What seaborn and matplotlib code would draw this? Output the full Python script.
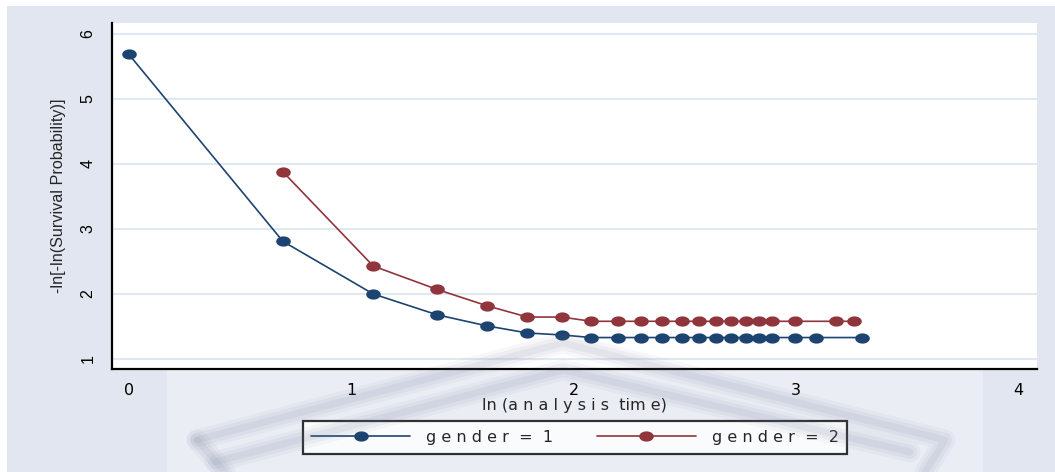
import numpy as np
import pandas as pd
import matplotlib
matplotlib.use("Agg")
import matplotlib.pyplot as plt
import matplotlib.transforms as mtransforms
from matplotlib.path import Path
from matplotlib.patches import Rectangle
from matplotlib.lines import Line2D
import seaborn as sns

# ln(analysis time) and -ln[-ln(S)] for each gender
x_g1 = [0.000, 0.693, 1.099, 1.386, 1.609, 1.792, 1.946, 2.079, 2.197, 2.303,
        2.398, 2.485, 2.565, 2.639, 2.708, 2.773, 2.833, 2.890, 2.996, 3.091, 3.296]
y_g1 = [5.69, 2.81, 2.00, 1.68, 1.51, 1.40, 1.37, 1.33, 1.33, 1.33,
        1.33, 1.33, 1.33, 1.33, 1.33, 1.33, 1.33, 1.33, 1.33, 1.33, 1.33]
x_g2 = [0.693, 1.099, 1.386, 1.609, 1.792, 1.946, 2.079, 2.197, 2.303, 2.398,
        2.485, 2.565, 2.639, 2.708, 2.773, 2.833, 2.890, 2.996, 3.178, 3.258]
y_g2 = [3.88, 2.43, 2.07, 1.82, 1.645, 1.645, 1.58, 1.58, 1.58, 1.58,
        1.58, 1.58, 1.58, 1.58, 1.58, 1.58, 1.58, 1.58, 1.58, 1.58]
labels = ["g e n d e r  =  1", "g e n d e r  =  2"]
x_ticks = [0, 1, 2, 3, 4]
y_ticks = [1, 2, 3, 4, 5, 6]

NAVY = "#1D4470"
MAROON = "#90353B"

sns.set_theme(style="white")
plt.rcParams["font.family"] = ["DejaVu Sans"]
ARIAL = ["Liberation Sans", "DejaVu Sans"]

df = pd.concat([
    pd.DataFrame({"x": x_g1, "y": y_g1, "grp": labels[0]}),
    pd.DataFrame({"x": x_g2, "y": y_g2, "grp": labels[1]}),
], ignore_index=True)

W, H = 1055, 472
fig = plt.figure(figsize=(W / 100, H / 100), dpi=100, facecolor="white")
px = mtransforms.Affine2D().scale(1 / W, -1 / H).translate(0, 1) + fig.transFigure

# graph region background
fig.add_artist(Rectangle((7, 6), W - 7, H - 6, transform=px,
                         facecolor="#E1E6F0", edgecolor="none", zorder=-20))
fig.add_artist(Rectangle((167, 345), 983 - 167, H - 345, transform=px,
                         facecolor="#EAEDF4", edgecolor="none", zorder=-19))

ax = fig.add_axes([112 / W, 1 - 369 / H, (1037 - 112) / W, (369 - 23) / H])
ax.set_facecolor("white")

# elliptical marker
t = np.linspace(0, 2 * np.pi, 60)
ell = Path(np.column_stack([np.cos(t), 0.7 * np.sin(t)]), closed=True)

for lab, col in zip(labels, [NAVY, MAROON]):
    sns.lineplot(data=df[df["grp"] == lab], x="x", y="y", ax=ax, color=col,
                 estimator=None, sort=False, lw=1.2, marker=ell, markersize=10.5,
                 markeredgewidth=0, markerfacecolor=col, label=lab, legend=False)

ax.set_xlim(-0.075, 4.082)
ax.set_ylim(0.846, 6.169)
ax.set_xticks(x_ticks)
ax.set_yticks(y_ticks)
ax.set_xticklabels([str(v) for v in x_ticks], fontsize=11.5)
ax.set_yticklabels([str(v) for v in y_ticks], fontsize=11.5, rotation=90,
                   va="center", family=ARIAL)
ax.grid(axis="y", color="#E2E8F2", lw=1.5)
ax.grid(axis="x", visible=False)
for s in ["top", "right"]:
    ax.spines[s].set_visible(False)
for s in ["left", "bottom"]:
    ax.spines[s].set_color("black")
    ax.spines[s].set_linewidth(1.6)
ax.tick_params(axis="both", which="major", direction="out", length=7, width=1.5,
               color="black", labelcolor="black")
ax.tick_params(axis="y", pad=5)
ax.tick_params(axis="x", pad=3)
ax.set_xlabel("ln (a n a l y s i s  tim e)", fontsize=11.5, labelpad=0)
ax.set_ylabel("-ln[-ln(Survival Probability)]", fontsize=11.6, labelpad=10,
              family=ARIAL)

handles = [Line2D([], [], color=c, lw=1.2, marker=ell, markersize=10.5,
                  markeredgewidth=0) for c in [NAVY, MAROON]]
leg = fig.legend(handles, labels, loc="center", ncol=2,
                 bbox_to_anchor=(575 / W, 1 - 437.5 / H), fontsize=11.5,
                 frameon=True, fancybox=False, edgecolor="black",
                 handlelength=6.2, handletextpad=1.0, columnspacing=2.7,
                 borderpad=0.55, borderaxespad=0, markerscale=1.0)
leg.get_frame().set_linewidth(1.6)
leg.get_frame().set_facecolor("white")

# faint emblem in the lower part of the graph region
for pts in ([(197, 440), (563, 343), (945, 440), (925, 472)],
            [(215, 462), (563, 370), (910, 452)],
            [(197, 440), (225, 472)]):
    xs, ys = zip(*pts)
    for lw, a in [(15, 0.05), (10, 0.07), (5, 0.08)]:
        fig.add_artist(Line2D(xs, ys, transform=px, color="#6E7596", lw=lw,
                              alpha=a, solid_capstyle="round", zorder=30))

fig.savefig("out.png", dpi=100, facecolor=fig.get_facecolor())
